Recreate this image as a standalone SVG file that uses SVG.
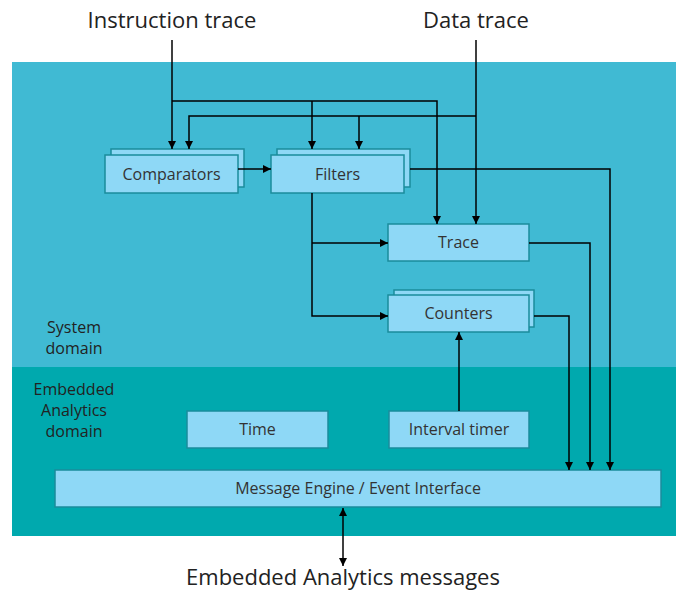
<svg xmlns="http://www.w3.org/2000/svg" width="676" height="592" viewBox="0 0 676 592">
  <style>
    .box { fill: #8ED8F6; stroke: #1A8C9C; stroke-width: 1.5; }
    .lbl { font-family: "Open Sans", "Noto Sans", sans-serif; font-size: 16px; fill: #333333; text-anchor: middle; }
    .dom { font-family: "Open Sans", "Noto Sans", sans-serif; font-size: 16px; fill: #222222; text-anchor: middle; }
    .ext { font-family: "Open Sans", "Noto Sans", sans-serif; font-size: 22px; fill: #222222; text-anchor: middle; }
    .wire { fill: none; stroke: #000000; stroke-width: 1.5; }
    .arr { marker-end: url(#head); }
  </style>
  <defs>
    <marker id="head" viewBox="0 0 8 8" refX="8" refY="4" markerWidth="8" markerHeight="8" markerUnits="userSpaceOnUse" orient="auto-start-reverse">
      <path d="M0,0 L8,4 L0,8 z" fill="#000000"/>
    </marker>
  </defs>

  <rect width="676" height="592" fill="#FFFFFF"/>

  <!-- domains -->
  <g id="system-domain">
    <rect x="12" y="62" width="664" height="305" fill="#40BAD3"/>
    <text class="dom" x="74" y="333">System</text>
    <text class="dom" x="74" y="354">domain</text>
  </g>
  <g id="analytics-domain">
    <rect x="12" y="367" width="664" height="169" fill="#00A9AE"/>
    <text class="dom" x="74" y="395">Embedded</text>
    <text class="dom" x="74" y="416">Analytics</text>
    <text class="dom" x="74" y="437">domain</text>
  </g>

  <!-- external labels -->
  <g id="instruction-trace">
    <text class="ext" x="172" y="28">Instruction trace</text>
  </g>
  <g id="data-trace">
    <text class="ext" x="476" y="28">Data trace</text>
  </g>
  <g id="ea-messages">
    <text class="ext" x="343" y="585">Embedded Analytics messages</text>
  </g>

  <!-- nodes -->
  <g id="comparators">
    <rect class="box" x="111" y="149" width="133" height="38"/>
    <rect class="box" x="105" y="155" width="133" height="38"/>
    <text class="lbl" x="171.5" y="180">Comparators</text>
  </g>
  <g id="filters">
    <rect class="box" x="277" y="149" width="133" height="38"/>
    <rect class="box" x="271" y="155" width="133" height="38"/>
    <text class="lbl" x="337.5" y="180">Filters</text>
  </g>
  <g id="trace">
    <rect class="box" x="388" y="224" width="141" height="37"/>
    <text class="lbl" x="458.5" y="248">Trace</text>
  </g>
  <g id="counters">
    <rect class="box" x="394" y="290" width="140" height="37"/>
    <rect class="box" x="388" y="295" width="141" height="37"/>
    <text class="lbl" x="458.5" y="319">Counters</text>
  </g>
  <g id="time">
    <rect class="box" x="187" y="411" width="141" height="37"/>
    <text class="lbl" x="257.5" y="435">Time</text>
  </g>
  <g id="interval-timer">
    <rect class="box" x="389" y="411" width="140" height="37"/>
    <text class="lbl" x="459" y="435">Interval timer</text>
  </g>
  <g id="message-engine">
    <rect class="box" x="55" y="470" width="606" height="37"/>
    <text class="lbl" x="358" y="494">Message Engine / Event Interface</text>
  </g>

  <!-- connectors -->
  <g id="connectors">
    <path class="wire arr" d="M172,40 V149"/>
    <path class="wire arr" d="M172,101 H437 V224"/>
    <path class="wire arr" d="M312,101 V149"/>
    <path class="wire arr" d="M476,40 V224"/>
    <path class="wire arr" d="M476,116 H189 V149"/>
    <path class="wire arr" d="M359,116 V149"/>
    <path class="wire arr" d="M238,169 H271"/>
    <path class="wire arr" d="M410,169 H610 V470"/>
    <path class="wire arr" d="M529,243 H590 V470"/>
    <path class="wire arr" d="M534,316 H569 V470"/>
    <path class="wire arr" d="M312,193 V316 H388"/>
    <path class="wire arr" d="M312,243 H388"/>
    <path class="wire arr" d="M459,411 V332"/>
    <path class="wire arr" d="M343,508 V566" marker-start="url(#head)"/>
  </g>
</svg>
